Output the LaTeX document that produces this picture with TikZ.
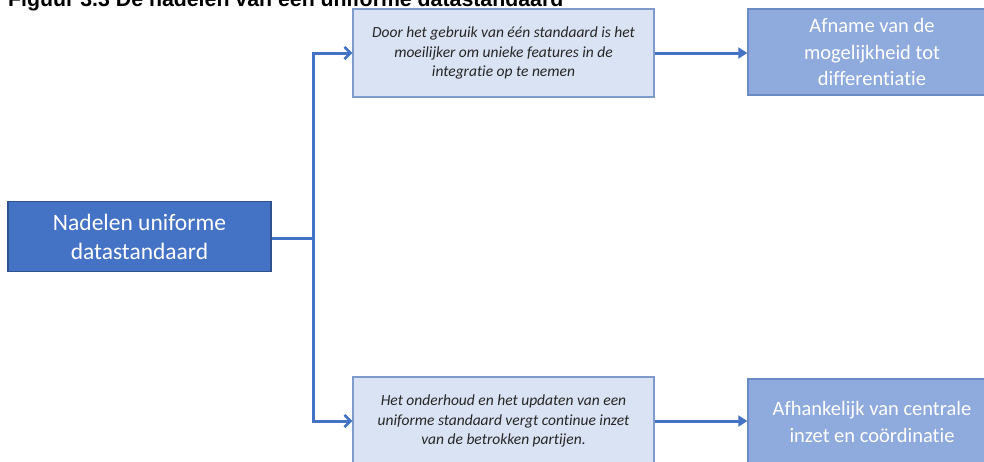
\documentclass[tikz,border=0pt]{standalone}
\usepackage{fontspec}
\setmainfont{Carlito}[Ligatures=NoCommon]
\newfontfamily\titlefont{Liberation Sans}
\usetikzlibrary{arrows.meta}
\definecolor{darkblue}{HTML}{4472C4}
\definecolor{darkborder}{HTML}{2F528F}
\definecolor{paleblue}{HTML}{DAE3F3}
\definecolor{paleborder}{HTML}{7F9BCB}
\definecolor{midblue}{HTML}{8FAADC}
\definecolor{midborder}{HTML}{6A8BC4}
\definecolor{textgray}{HTML}{262626}
\tikzset{
  mainbox/.style={draw=darkborder, fill=darkblue, line width=1.4pt, text=white,
    minimum width=263pt, minimum height=70pt, align=center, inner sep=0pt,
    font=\fontsize{23.5}{29}\selectfont},
  midbox/.style={draw=paleborder, fill=paleblue, line width=1.4pt, text=textgray,
    minimum width=301pt, minimum height=88pt, align=center, inner sep=0pt,
    font=\itshape\fontsize{15.5}{19.5}\selectfont},
  endbox/.style={draw=midborder, fill=midblue, line width=1.4pt, text=white,
    minimum width=248pt, minimum height=86pt, align=center, inner sep=0pt,
    font=\fontsize{20.5}{26.5}\selectfont},
  conn/.style={draw=darkblue, line width=3pt},
  barbarrow/.style={conn, -{Straight Barb[length=6pt,width=12pt,line width=2.6pt]}},
  triarrow/.style={conn, -{Triangle[length=9pt,width=11pt]}}
}
\begin{document}
\begin{tikzpicture}[x=1pt,y=-1pt]
\useasboundingbox (0,0) rectangle (984,461);
\clip (0,0) rectangle (984,461);
\fill[white] (0,0) rectangle (984,461);
\node[anchor=base west, inner sep=0pt, font=\titlefont\bfseries\fontsize{21.3}{25}\selectfont] (title) at (8,6.5) {Figuur 3.3 De nadelen van een uniforme datastandaard};
\node[mainbox] (main) at (139.5,236.5) {Nadelen uniforme\\datastandaard};
\node[midbox] (tm) at (503.5,53) {Door het gebruik van één standaard is het\\moeilijker om unieke features in de\\integratie op te nemen};
\node[midbox] (bm) at (503.5,421) {Het onderhoud en het updaten van een\\uniforme standaard vergt continue inzet\\van de betrokken partijen.};
\node[endbox] (tr) at (872,52) {Afname van de\\mogelijkheid tot\\differentiatie};
\node[endbox] (br) at (872,422) {Afhankelijk van centrale\\inzet en coördinatie};
\coordinate (junction) at (313,238);
\draw[conn] (main.east |- junction) -- (junction);
\draw[barbarrow] (junction) |- (tm.west);
\draw[barbarrow] (junction) |- (bm.west);
\draw[triarrow] (tm.east) -- (tr.west |- tm.east);
\draw[triarrow] (bm.east) -- (br.west |- bm.east);
\end{tikzpicture}
\end{document}
